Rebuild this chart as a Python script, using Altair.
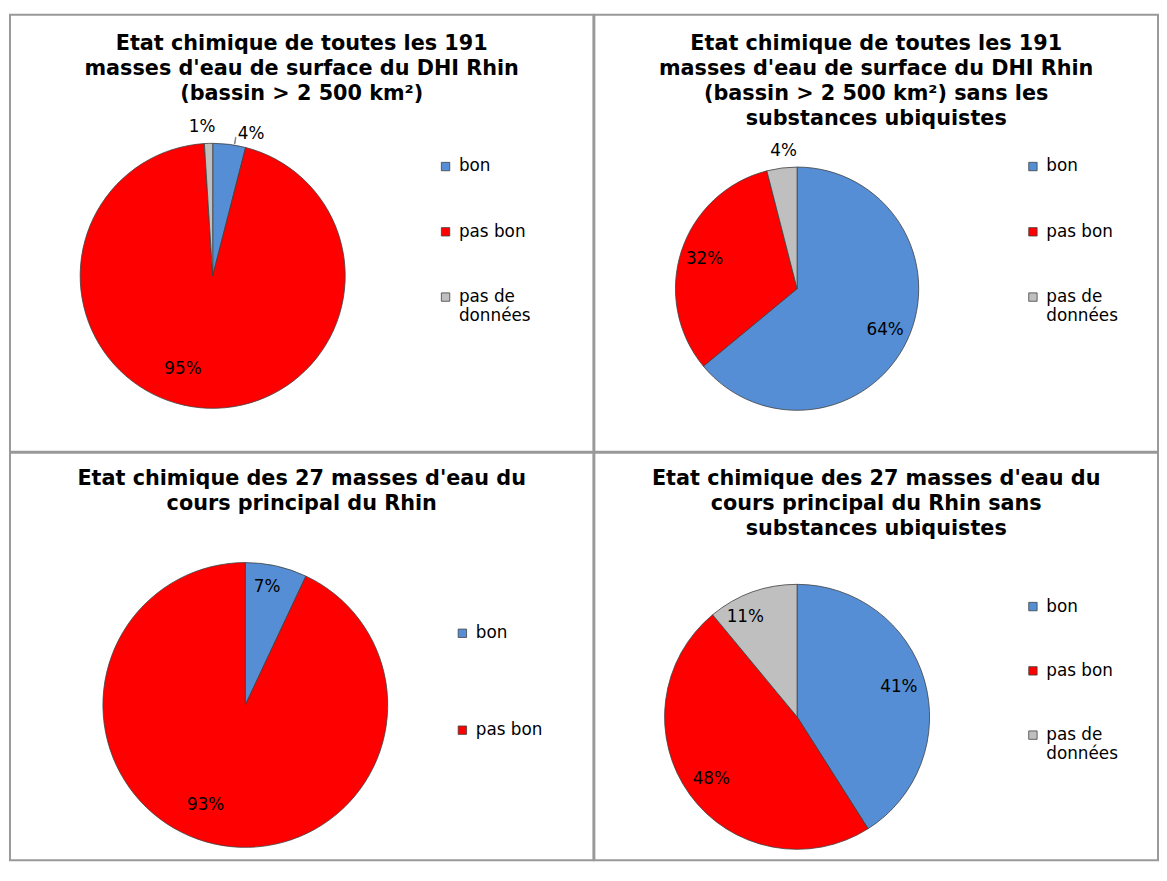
import json
import altair as alt
import pandas as pd

# ---- data -------------------------------------------------------------
CATS3 = ["bon", "pas bon", "pas de données"]
CATS2 = ["bon", "pas bon"]
COLORS = {"bon": "#558ED5", "pas bon": "#FF0000", "pas de données": "#BFBFBF"}

TITLE_1 = ["Etat chimique de toutes les 191", "masses d'eau de surface du DHI Rhin",
           "(bassin > 2 500 km²)"]
TITLE_2 = ["Etat chimique de toutes les 191", "masses d'eau de surface du DHI Rhin",
           "(bassin > 2 500 km²) sans les", "substances ubiquistes"]
TITLE_3 = ["Etat chimique des 27 masses d'eau du", "cours principal du Rhin"]
TITLE_4 = ["Etat chimique des 27 masses d'eau du", "cours principal du Rhin sans",
           "substances ubiquistes"]

VALUES_1 = [4, 95, 1]     # %
VALUES_2 = [64, 32, 4]
VALUES_3 = [7, 93]
VALUES_4 = [41, 48, 11]

FONT = "DejaVu Sans"


def shift_expr(nudge, k):
    e = "0"
    for cat, d in nudge.items():
        e = f"datum.cat == '{cat}' ? {d[k]} : ({e})"
    return e


def panel(cats, vals, title, w, h, cx, cy, r, outside, nudge, leader,
          legx, legy, rowpad, ty):
    df = pd.DataFrame({"cat": cats, "val": vals, "i": list(range(len(cats)))})
    colour = alt.Color(
        "cat:N",
        scale=alt.Scale(domain=cats, range=[COLORS[c] for c in cats]),
        legend=alt.Legend(
            orient="none", legendX=legx, legendY=legy, title=None,
            symbolType="square", symbolSize=72, symbolStrokeColor="#404040",
            symbolStrokeWidth=0.8, labelFont=FONT, labelFontSize=17,
            labelColor="#000000", labelOffset=5, rowPadding=rowpad, padding=0,
            labelLimit=300,
            labelExpr="datum.label == 'pas de données' ? ['pas de', 'données'] : datum.label",
        ),
    )
    theta_scale = alt.Scale(domain=[0, sum(vals)])
    base = alt.Chart(df).encode(
        theta=alt.Theta("val:Q", stack=True, scale=theta_scale),
        order=alt.Order("i:Q"),
        x=alt.value(cx),
        y=alt.value(cy),
    )
    arcs = base.mark_arc(outerRadius=r, stroke="#404040", strokeWidth=0.8).encode(color=colour)
    outside_js = json.dumps(outside)
    labels = base.transform_calculate(lbl="datum.val + '%'").mark_text(
        font=FONT, fontSize=17, color="#000000",
        dx=alt.ExprRef(expr=shift_expr(nudge, 0)),
        dy=alt.ExprRef(expr=shift_expr(nudge, 1)),
    ).encode(
        text="lbl:N",
        radius=alt.value({"expr": f"indexof({outside_js}, datum.cat) >= 0 ? {r + 17} : {0.8 * r}"}),
    )
    layers = [arcs, labels]
    if leader:
        lines = alt.Chart(df).transform_window(
            cum="sum(val)", sort=[alt.SortField("i")], frame=[None, 0]
        ).transform_calculate(
            mid="datum.cum - datum.val / 2 + 0.6", mid2="datum.cum - datum.val / 2 + 0.65"
        ).transform_filter(
            alt.FieldOneOfPredicate(field="cat", oneOf=leader)
        ).mark_arc(fill=None, stroke="#7f7f7f", strokeWidth=1).encode(
            theta=alt.Theta("mid:Q", scale=theta_scale),
            theta2="mid2:Q",
            radius=alt.value(r + 1),
            radius2=alt.value(r + 8),
            x=alt.value(cx),
            y=alt.value(cy),
        )
        layers.append(lines)
    head = alt.Chart(pd.DataFrame({"title": ["\n".join(title)]})).mark_text(
        font=FONT, fontSize=21, fontWeight="bold", color="#000000", align="center",
        baseline="top", lineBreak="\n", lineHeight=25,
    ).encode(text="title:N", x=alt.value(w / 2), y=alt.value(ty))
    layers.append(head)
    return alt.layer(*layers).properties(width=w, height=h)


p1 = panel(CATS3, VALUES_1, TITLE_1, 590, 442, 205, 264, 134, ["bon", "pas de données"],
           {"bon": (20, 6), "pas de données": (-6, 0), "pas bon": (-20, -12)}, ["bon"],
           432, 145, 48, 19)
p2 = panel(CATS3, VALUES_2, TITLE_2, 570, 442, 205, 277, 123, ["pas de données"],
           {"pas de données": (4, 0)}, [],
           435, 145, 48, 19)
p3 = panel(CATS2, VALUES_3, TITLE_3, 590, 412, 238, 255, 144, [],
           {"bon": (-3, -7), "pas bon": (-15, -11)}, [],
           449, 174, 80, 16)
p4 = panel(CATS3, VALUES_4, TITLE_4, 570, 412, 205, 267, 134, [],
           {"pas de données": (-16, 0)}, [],
           435, 147, 47, 16)

top = alt.hconcat(p1, p2, spacing=-2).resolve_scale(color="independent").resolve_legend(
    color="independent")
bottom = alt.hconcat(p3, p4, spacing=-2).resolve_scale(color="independent").resolve_legend(
    color="independent")
chart = alt.vconcat(top, bottom, spacing=-2).resolve_scale(color="independent").resolve_legend(
    color="independent"
).properties(
    padding={"left": 1, "top": 1, "right": 0, "bottom": 0}, background="white"
).configure_view(
    stroke="#999999", strokeWidth=2
)

chart.save("out.html", embed_options={"renderer": "svg", "actions": False})
